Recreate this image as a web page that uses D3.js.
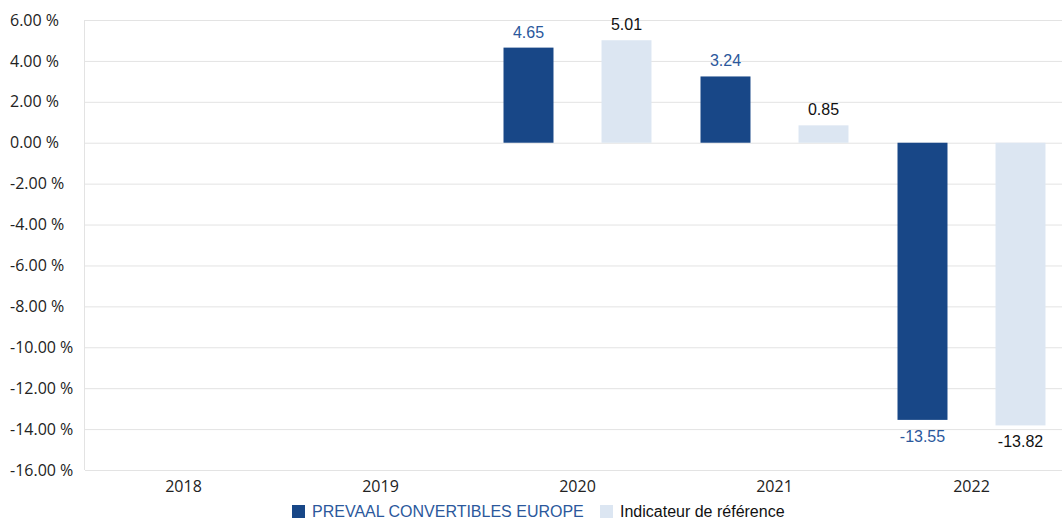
<!DOCTYPE html>
<html>
<head>
<meta charset="utf-8">
<title>Performances annuelles</title>
<script src="https://d3js.org/d3.v7.min.js"></script>
<style>
  body { margin: 0; background: #fff; }
  .grid line { stroke: #e3e3e3; }
  .grid .domain { display: none; }
  .tick text { font-family: "Open Sans", sans-serif; font-size: 16px; fill: #222; }
  .lbl, .legend text { font-family: "Liberation Sans", Arial, sans-serif; font-size: 16px; }
</style>
</head>
<body>
<script>
var years = ["2018", "2019", "2020", "2021", "2022"];
var fund = [null, null, 4.65, 3.24, -13.55];
var benchmark = [null, null, 5.01, 0.85, -13.82];
var seriesNames = ["PREVAAL CONVERTIBLES EUROPE", "Indicateur de référence"];
var yTicks = [6, 4, 2, 0, -2, -4, -6, -8, -10, -12, -14, -16];

var colors = ["#184787", "#dce6f2"];
var labelColors = ["#2b589c", "#111"];

var W = 1062, H = 519;
var plotLeft = 85, plotRight = 1070, plotTop = 20, plotBottom = 470;

// plain hyphen for negatives, like the original
var fmt = function(v) { return v.toFixed(2); };

var svg = d3.select("body").append("svg")
    .attr("width", W)
    .attr("height", H);

var x0 = d3.scaleBand().domain(years).range([plotLeft, plotRight]);
var x1 = d3.scaleBand().domain([0, 1]).range([0, x0.bandwidth()])
    .paddingInner(0.49).paddingOuter(0.25);
var y = d3.scaleLinear().domain([-16, 6]).range([plotBottom, plotTop]);

// horizontal grid + y labels (left aligned)
var ga = svg.append("g")
    .attr("class", "grid")
    .attr("transform", "translate(" + plotLeft + ",0)")
    .call(d3.axisLeft(y).tickValues(yTicks).tickSize(-(W - plotLeft))
        .tickFormat(function(d) { return fmt(d) + " %"; }));
ga.selectAll(".tick text")
    .attr("text-anchor", "start")
    .attr("x", 10 - plotLeft);

// left axis line
svg.append("line")
    .attr("x1", plotLeft - 0.5).attr("x2", plotLeft - 0.5)
    .attr("y1", y(6)).attr("y2", y(-16))
    .attr("stroke", "#e3e3e3");

// x labels
var xa = svg.append("g")
    .attr("transform", "translate(0," + plotBottom + ")")
    .call(d3.axisBottom(x0).tickSize(0).tickPadding(11));
xa.select(".domain").remove();

var rows = years.map(function(yr, i) {
  return {year: yr, vals: [fund[i], benchmark[i]]};
});

var groups = svg.append("g").selectAll("g")
  .data(rows)
  .enter().append("g")
    .attr("transform", function(d) { return "translate(" + x0(d.year) + ",0)"; });

var cells = groups.selectAll("g")
  .data(function(d) {
    return d.vals.map(function(v, k) { return {k: k, v: v}; })
      .filter(function(e) { return e.v !== null; });
  })
  .enter().append("g");

cells.append("rect")
    .attr("x", function(d) { return x1(d.k); })
    .attr("width", x1.bandwidth())
    .attr("y", function(d) { return Math.min(y(d.v), y(0)); })
    .attr("height", function(d) { return Math.abs(y(d.v) - y(0)); })
    .attr("fill", function(d) { return colors[d.k]; });

cells.append("text")
    .attr("class", "lbl")
    .attr("x", function(d) { return x1(d.k) + x1.bandwidth() / 2; })
    .attr("y", function(d) { return d.v >= 0 ? y(d.v) - 10 : y(d.v) + 22; })
    .attr("text-anchor", "middle")
    .attr("fill", function(d) { return labelColors[d.k]; })
    .text(function(d) { return fmt(d.v); });

// legend
var legend = svg.append("g").attr("class", "legend");
var lx = [292, 600];
seriesNames.forEach(function(name, k) {
  legend.append("rect")
      .attr("x", lx[k]).attr("y", 505)
      .attr("width", 13).attr("height", 13)
      .attr("fill", colors[k]);
  legend.append("text")
      .attr("x", lx[k] + 20).attr("y", 517)
      .attr("fill", labelColors[k])
      .text(name);
});
</script>
</body>
</html>
